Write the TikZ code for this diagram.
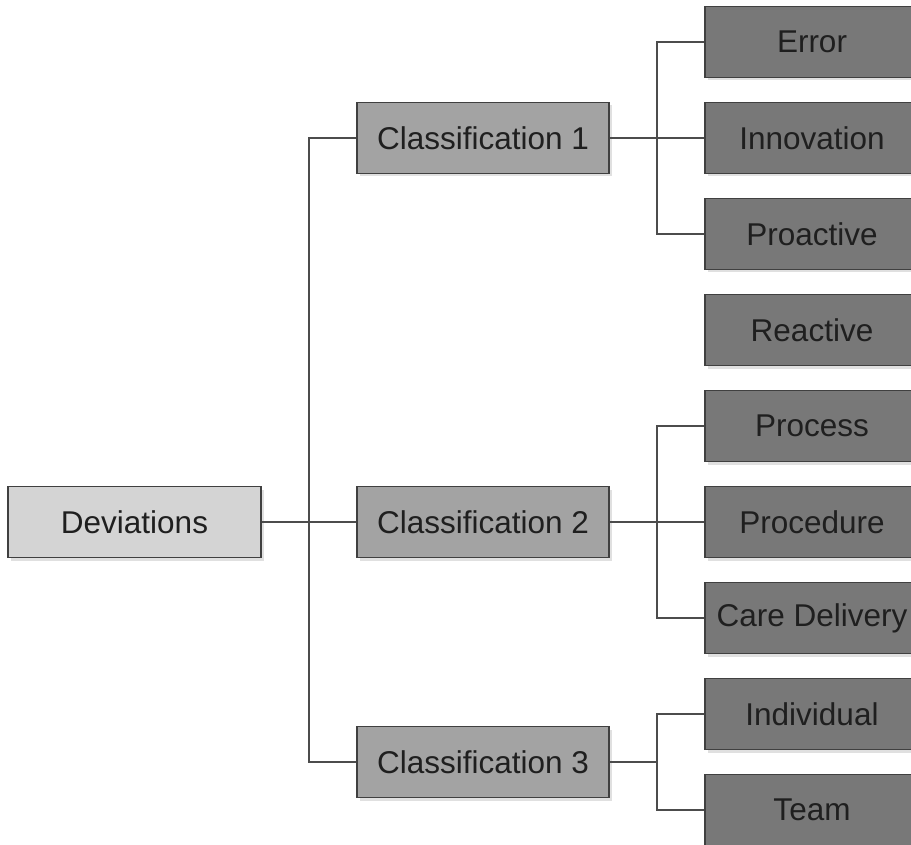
\documentclass[tikz,border=0pt]{standalone}
\usepackage{fontspec}
\setmainfont{Liberation Sans}
\begin{document}
\begin{tikzpicture}[x=1pt,y=-1pt,
  box/.style={draw=black!75, line width=1.3pt, rectangle, inner sep=0pt,
    minimum height=71pt, font=\fontsize{31.5}{37}\selectfont, text=black!88},
  rootbox/.style={box, fill=black!17, minimum width=253pt},
  midbox/.style={box, fill=black!36, minimum width=252pt},
  leafbox/.style={box, fill=black!53, minimum width=214pt},
  shade/.style={fill=black!12, draw=none},
  link/.style={draw=black!70, line width=1.3pt}]
\useasboundingbox (0,0) rectangle (911,845);
\clip (0,0) rectangle (911,845);

% soft drop shadows behind all boxes
\foreach \cx/\cy/\w in {134.5/522/253, 483/138/252, 483/522/252, 483/762/252}
  \fill[shade] (\cx-\w/2+3, \cy-35.5+3) rectangle (\cx+\w/2+3, \cy+35.5+3);
\foreach \cy in {42,138,234,330,426,522,618,714,810}
  \fill[shade] (705+3, \cy-35.5+3) rectangle (919+3, \cy+35.5+3);

% root
\node[rootbox] (dev) at (134.5,522) {Deviations};

% classifications
\node[midbox] (c1) at (483,138) {Classification 1};
\node[midbox] (c2) at (483,522) {Classification 2};
\node[midbox] (c3) at (483,762) {Classification 3};

% leaves
\node[leafbox] (err)  at (812,42)  {Error};
\node[leafbox] (inn)  at (812,138) {Innovation};
\node[leafbox] (pro)  at (812,234) {Proactive};
\node[leafbox] (rea)  at (812,330) {Reactive};
\node[leafbox] (prc)  at (812,426) {Process};
\node[leafbox] (prd)  at (812,522) {Procedure};
\node[leafbox] (care) at (812,618) {Care Delivery};
\node[leafbox] (ind)  at (812,714) {Individual};
\node[leafbox] (team) at (812,810) {Team};

% junction columns
\coordinate (j0) at (309,522);
\coordinate (j1) at (657,138);
\coordinate (j2) at (657,522);
\coordinate (j3) at (657,762);

% root to classifications
\draw[link] (dev.east) -- (c2.west);
\draw[link] (c1.west) -| (j0) |- (c3.west);

% classification 1 branches
\draw[link] (c1.east) -- (inn.west);
\draw[link] (err.west) -| (j1) |- (pro.west);

% classification 2 branches
\draw[link] (c2.east) -- (prd.west);
\draw[link] (prc.west) -| (j2) |- (care.west);

% classification 3 branches
\draw[link] (c3.east) -- (j3);
\draw[link] (ind.west) -| (j3) |- (team.west);
\end{tikzpicture}
\end{document}
